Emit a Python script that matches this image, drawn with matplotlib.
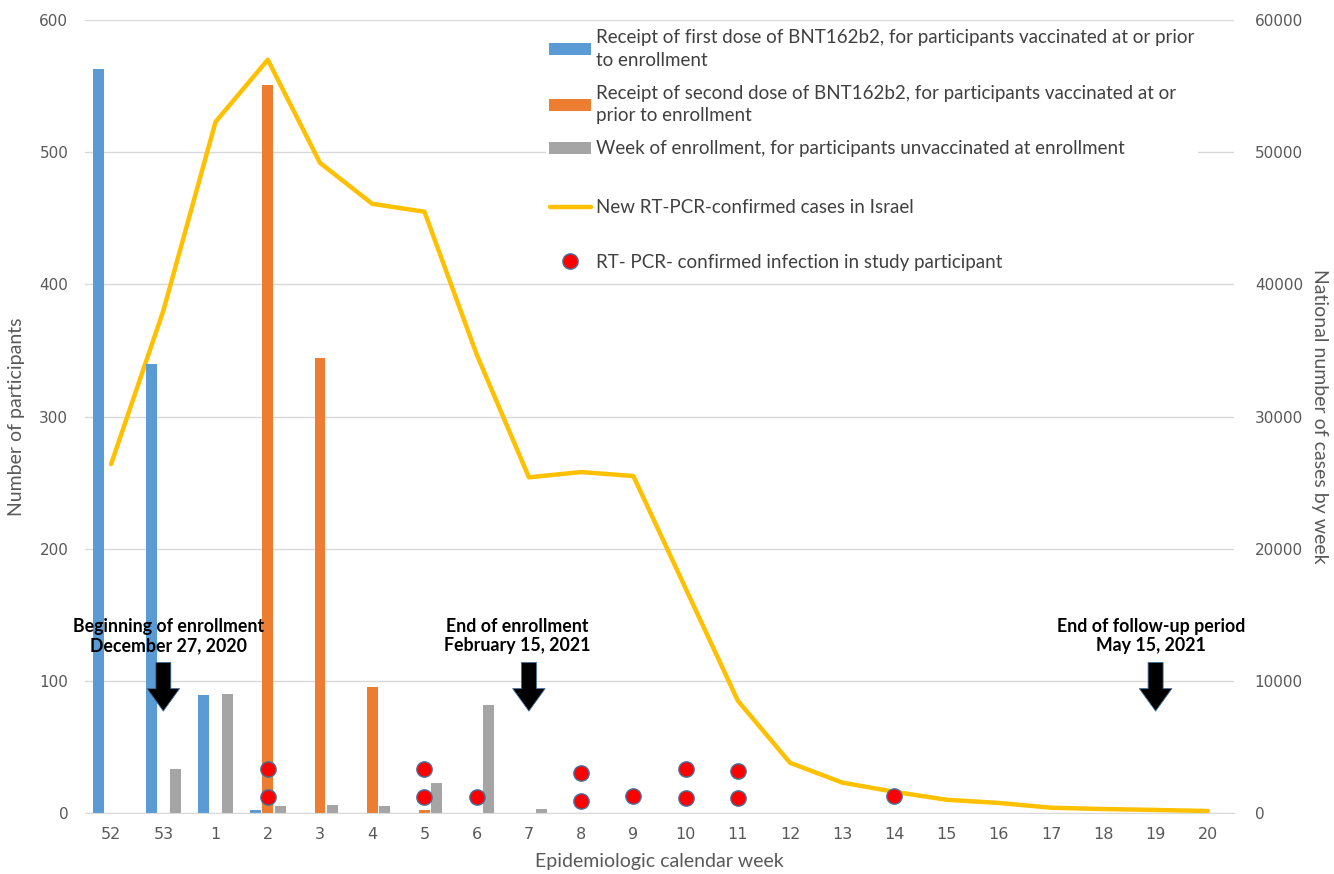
import matplotlib.pyplot as plt
import numpy as np

# ------------------ Data ------------------
weeks = ['52', '53', '1', '2', '3', '4', '5', '6', '7', '8', '9', '10', '11',
         '12', '13', '14', '15', '16', '17', '18', '19', '20']
first_dose = [563, 340, 89, 2, 0, 0, 0, 0, 0, 0, 0, 0, 0, 0, 0, 0, 0, 0, 0, 0, 0, 0]
second_dose = [0, 0, 0, 551, 344, 95, 2, 0, 0, 0, 0, 0, 0, 0, 0, 0, 0, 0, 0, 0, 0, 0]
unvaccinated = [0, 33, 90, 5, 6, 5, 23, 82, 3, 0, 0, 0, 0, 0, 0, 0, 0, 0, 0, 0, 0, 0]
national_cases = [26400, 38000, 52300, 57000, 49200, 46100, 45500, 34700, 25400,
                  25800, 25500, 17000, 8500, 3800, 2300, 1600, 1000, 760, 400,
                  300, 230, 150]
# infections in study participants: (week, y position in participants axis)
infection_weeks = ['2', '2', '5', '5', '6', '8', '8', '9', '10', '10', '11', '11', '14']
infection_y = [33, 12, 33, 12, 12, 30, 9, 13, 33, 11, 32, 11, 13]

# annotations: (text, week where arrow points, text shift)
notes = [("Beginning of enrollment\nDecember 27, 2020", '53', 0.1),
         ("End of enrollment\nFebruary 15, 2021", '7', -0.22),
         ("End of follow-up period\nMay 15, 2021", '19', -0.08)]

# ------------------ Figure ------------------
fig = plt.figure(figsize=(13.34, 8.74), dpi=100)
ax = fig.add_axes([0.0637, 0.0698, 0.8613, 0.9072])
ax2 = ax.twinx()
ax.set_zorder(ax2.get_zorder() + 1)
ax.patch.set_visible(False)

x = np.arange(len(weeks))
w = 0.21
off = 0.235
grey_txt = '#595959'
leg_txt = '#404040'

b1 = ax.bar(x - off, first_dose, w, color='#5b9bd5')
b2 = ax.bar(x, second_dose, w, color='#ed7d31')
b3 = ax.bar(x + off, unvaccinated, w, color='#a5a5a5')

line, = ax2.plot(x, national_cases, color='#ffc000', lw=3.2, solid_capstyle='round')

ix = [weeks.index(wk) for wk in infection_weeks]
dots, = ax.plot(ix, infection_y, 'o', color='red', markeredgecolor='#41719c',
                markeredgewidth=1.0, markersize=11, linestyle='none')

# arrows and notes
for text, wk, dx in notes:
    i = weeks.index(wk)
    ax.annotate('', xy=(i, 75), xytext=(i, 116),
                arrowprops=dict(arrowstyle='simple,head_width=1.3,head_length=0.9,tail_width=0.6',
                                mutation_scale=18, facecolor='black', edgecolor='#41719c', lw=0.6))
    ax.text(i + dx, 134, text, ha='center', va='center', fontsize=12.8,
            fontweight='bold', family='Lato', linespacing=1.15)

# axes styling
ax.set_xlim(-0.5, len(weeks) - 0.5)
ax.set_ylim(0, 600)
ax2.set_ylim(0, 60000)
ax.set_yticks(range(0, 601, 100))
ax2.set_yticks(range(0, 60001, 10000))
ax.set_xticks(x)
ax.set_xticklabels(weeks)
ax2.grid(axis='y', color='#d9d9d9', lw=1)
ax2.set_axisbelow(True)
for a in (ax, ax2):
    for s in a.spines.values():
        s.set_visible(False)
    a.tick_params(length=0, labelsize=11, colors=grey_txt)
ax.spines['bottom'].set_visible(True)
ax.spines['bottom'].set_color('#d9d9d9')
ax.tick_params(axis='x', pad=10, labelsize=11.5)
ax.tick_params(axis='y', pad=12)
ax2.tick_params(axis='y', pad=15)

ax.set_xlabel('Epidemiologic calendar week', fontsize=14, color=grey_txt, family='Lato', labelpad=8)
ax.set_ylabel('Number of participants', fontsize=14, color=grey_txt, family='Lato', labelpad=10)
ax2.set_ylabel('National number of cases by week', fontsize=14, color=grey_txt, family='Lato',
               rotation=270, labelpad=18)

# legend: bars in one block, line and dots below with wider spacing
bar_labels = ['Receipt of first dose of BNT162b2, for participants vaccinated at or prior\nto enrollment',
              'Receipt of second dose of BNT162b2, for participants vaccinated at or\nprior to enrollment',
              'Week of enrollment, for participants unvaccinated at enrollment']
leg1 = fig.legend([b1, b2, b3], bar_labels, loc='upper left', bbox_to_anchor=(0.409, 0.971),
                  prop={'family': 'Lato', 'size': 13.5}, labelcolor=leg_txt,
                  frameon=True, facecolor='white', edgecolor='none', framealpha=1,
                  handlelength=2.2, handleheight=0.6, handletextpad=0.3,
                  labelspacing=0.85, borderaxespad=0, borderpad=0.2, fancybox=False)
for t in leg1.get_texts():
    t.set_linespacing(1.4)
leg2 = fig.legend([line, dots], ['New RT-PCR-confirmed cases in Israel',
                                 'RT- PCR- confirmed infection in study participant'],
                  loc='upper left', bbox_to_anchor=(0.4035, 0.785),
                  prop={'family': 'Lato', 'size': 13.5}, labelcolor=leg_txt,
                  frameon=True, facecolor='white', edgecolor='none', framealpha=1,
                  handlelength=2.2, handletextpad=0.3,
                  labelspacing=2.0, borderaxespad=0, borderpad=0.6, fancybox=False)

fig.savefig('out.png', dpi=100)
